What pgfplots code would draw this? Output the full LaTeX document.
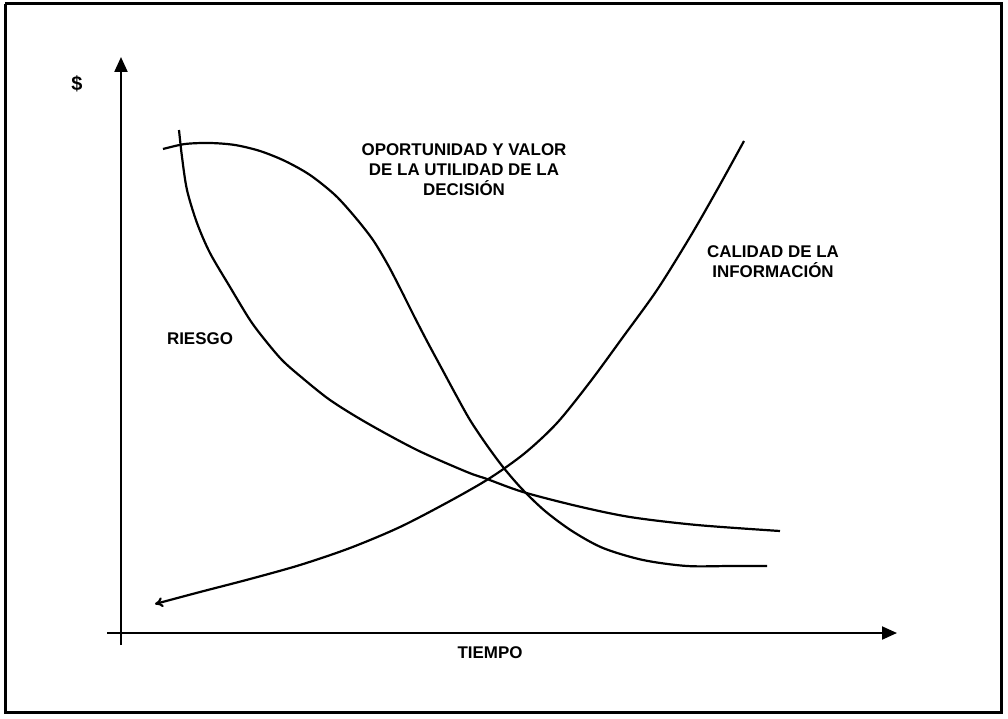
\documentclass[border=0pt]{standalone}
\usepackage{fontspec}
\setmainfont{Liberation Sans}
\usepackage{pgfplots}
\pgfplotsset{compat=1.18}
\usetikzlibrary{arrows.meta}
\begin{document}
\begin{tikzpicture}
\begin{axis}[
  width=1008bp, height=718bp, scale only axis,
  xmin=0, xmax=1008, ymin=0, ymax=718, y dir=reverse,
  axis lines=none, clip=false,
  font=\fontsize{17}{20}\selectfont\bfseries,
]
\path (axis cs:0,0) rectangle (axis cs:1008,718);
% outer frame
\addplot[black, line width=3bp, no markers] coordinates {(5,4) (1001,4) (1001,712) (5,712) (5,4)};
% axes
\addplot[black, line width=2.2bp, no markers, -{Triangle[length=15bp,width=13bp]}] coordinates {(121,645) (121,57)};
\addplot[black, line width=2bp, no markers, -{Triangle[length=15bp,width=13bp]}] coordinates {(107,633) (897,633)};
% RIESGO
\addplot[black, line width=2.2bp, smooth, no markers] coordinates {
 (179,130) (182,157) (187,190) (197,223) (210,253) (230,287) (250,320)
 (265,340) (282,360) (300,376) (330,400) (367,423) (417,450) (467,472)
 (487,479) (523,492) (577,506) (630,517) (697,525) (780,531)};
% OPORTUNIDAD
\addplot[black, line width=2.2bp, smooth, no markers] coordinates {
 (163,149) (185,144) (210,143) (235,145) (260,151) (285,161) (310,175)
 (335,195) (355,217) (373,240) (388,265) (401,290) (414,316) (428,343)
 (442,369) (456,395) (470,420) (486,444) (503,467) (522,489) (545,511)
 (572,531) (603,548) (643,560) (687,566) (730,566) (767,566)};
% CALIDAD
\addplot[black, line width=2.2bp, smooth, no markers, {To[length=8bp,width=10bp]}-] coordinates {
 (155,604) (200,592) (250,579) (300,565) (350,548) (400,527) (450,501)
 (490,478) (525,453) (557,423) (590,382) (623,337) (657,290) (690,237)
 (717,190) (744,141)};
% labels
\node at (axis cs:77,84) {\fontsize{20}{22}\selectfont\$};
\node at (axis cs:490,653) {TIEMPO};
\node at (axis cs:200,339) {RIESGO};
\node[align=center, inner sep=0pt] at (axis cs:464,170) {OPORTUNIDAD Y VALOR\\DE LA UTILIDAD DE LA\\DECISIÓN};
\node[align=center, inner sep=0pt] at (axis cs:773,262) {CALIDAD DE LA\\INFORMACIÓN};
\end{axis}
\end{tikzpicture}
\end{document}
